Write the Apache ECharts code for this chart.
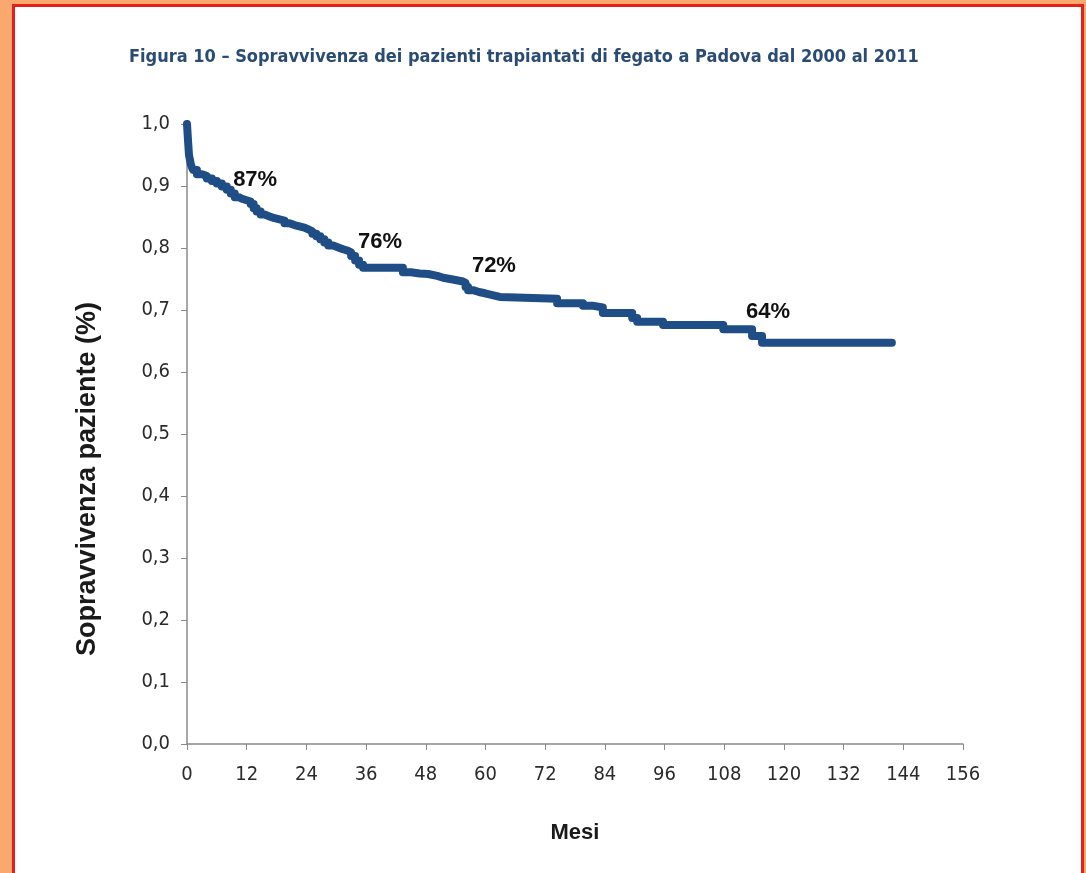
<!DOCTYPE html>
<html>
<head>
<meta charset="utf-8">
<script src="https://cdn.jsdelivr.net/npm/echarts@6/dist/echarts.min.js"></script>
<style>
    html, body { margin: 0; padding: 0; }
    #chart { width: 1086px; height: 873px; }
</style>
</head>
<body>
<div id="chart"></div>
<script>
// curva di sopravvivenza (Kaplan-Meier)
const survMonths = [0, 0.2, 0.4, 0.8, 1.2, 2.0, 3.0, 4.0, 5.0, 6.0, 7.0, 8.0, 8.8, 9.6, 10.4, 11.2, 12.0, 12.8, 13.4, 14.0, 14.8, 15.6, 16.6, 17.6, 18.6, 19.6, 20.6, 21.6, 22.6, 23.6, 24.4, 25.2, 26.0, 26.8, 27.6, 28.4, 29.4, 30.4, 31.4, 32.2, 33.0, 33.8, 34.6, 35.4, 43.4, 45.0, 46.8, 48.5, 50.3, 51.5, 52.9, 54.2, 55.5, 56.0, 56.5, 57.5, 58.7, 59.9, 61.4, 62.9, 74.4, 79.6, 81.5, 83.6, 89.5, 90.5, 95.7, 107.8, 113.6, 115.6, 141.7];
const survValues = [1.0, 0.974, 0.95, 0.934, 0.926, 0.919, 0.916, 0.912, 0.908, 0.904, 0.899, 0.894, 0.888, 0.882, 0.879, 0.877, 0.875, 0.871, 0.864, 0.859, 0.854, 0.851, 0.848, 0.846, 0.844, 0.840, 0.837, 0.835, 0.833, 0.830, 0.827, 0.823, 0.819, 0.814, 0.809, 0.804, 0.801, 0.798, 0.796, 0.793, 0.787, 0.780, 0.773, 0.768, 0.761, 0.759, 0.758, 0.755, 0.752, 0.750, 0.748, 0.746, 0.744, 0.737, 0.732, 0.729, 0.727, 0.724, 0.721, 0.718, 0.711, 0.707, 0.704, 0.695, 0.687, 0.681, 0.676, 0.669, 0.658, 0.647, 0.647];

// etichette percentuali
const labelMonths = [13.7, 38.8, 61.7, 116.8];
const labelValues = [0.91, 0.81, 0.771, 0.697];
const labelTexts = ['87%', '76%', '72%', '64%'];

const xTicks = [0, 12, 24, 36, 48, 60, 72, 84, 96, 108, 120, 132, 144, 156];

const chart = echarts.init(document.getElementById('chart'));

const option = {
    animation: false,
    backgroundColor: '#faa86e',
    graphic: [{
        type: 'rect',
        z: -100,
        silent: true,
        shape: { x: 13.5, y: 5.5, width: 1069, height: 900 },
        style: { fill: '#ffffff', stroke: '#e3211c', lineWidth: 3 }
    }],
    title: {
        text: 'Figura 10 – Sopravvivenza dei pazienti trapiantati di fegato a Padova dal 2000 al 2011',
        left: 124,
        top: 43,
        textStyle: {
            fontFamily: '"DejaVu Sans Condensed", sans-serif',
            fontWeight: 'bold',
            fontSize: 18,
            color: '#2a4b72'
        }
    },
    grid: { left: 187, top: 124, right: 123, bottom: 129, containLabel: false },
    xAxis: {
        type: 'value',
        min: xTicks[0],
        max: xTicks[xTicks.length - 1],
        interval: 12,
        name: 'Mesi',
        nameLocation: 'middle',
        nameGap: 78,
        nameTextStyle: { fontFamily: '"Liberation Sans", Arial, sans-serif', fontWeight: 'bold', fontSize: 22, color: '#1a1a1a' },
        axisLine: { lineStyle: { color: '#8a8a8a', width: 1.5 } },
        axisTick: { show: true, length: 6, lineStyle: { color: '#8a8a8a' } },
        axisLabel: {
            margin: 21,
            fontFamily: '"DejaVu Sans Condensed", sans-serif',
            fontSize: 20,
            color: '#2b2b2b'
        },
        splitLine: { show: false }
    },
    yAxis: {
        type: 'value',
        min: 0,
        max: 1,
        interval: 0.1,
        name: 'Sopravvivenza paziente (%)',
        nameLocation: 'middle',
        nameGap: 86,
        nameTextStyle: {
            fontFamily: '"Liberation Sans", Arial, sans-serif',
            fontWeight: 'bold',
            fontSize: 27,
            color: '#1a1a1a',
            padding: [0, 90, 0, 0]
        },
        axisLine: { show: true, lineStyle: { color: '#8a8a8a', width: 1.5 } },
        axisTick: { show: true, length: 6, lineStyle: { color: '#8a8a8a' } },
        axisLabel: {
            margin: 17,
            fontFamily: '"DejaVu Sans Condensed", sans-serif',
            fontSize: 20,
            color: '#2b2b2b',
            formatter: v => v.toFixed(1).replace('.', ',')
        },
        splitLine: { show: false }
    },
    series: [
        {
            type: 'line',
            step: 'end',
            showSymbol: false,
            data: survMonths.map((m, i) => [m, survValues[i]]),
            lineStyle: { color: '#1f4d86', width: 8, cap: 'round', join: 'round' }
        },
        {
            type: 'scatter',
            symbolSize: 0,
            itemStyle: { opacity: 1 },
            data: labelMonths.map((m, i) => ({ value: [m, labelValues[i]], name: labelTexts[i] })),
            label: {
                show: true,
                position: 'inside',
                formatter: '{b}',
                fontFamily: '"Liberation Sans", Arial, sans-serif',
                fontWeight: 'bold',
                fontSize: 22,
                color: '#111111',
                opacity: 1,
                textBorderWidth: 0,
                textBorderColor: 'transparent'
            }
        }
    ]
};

chart.setOption(option);
</script>
</body>
</html>
